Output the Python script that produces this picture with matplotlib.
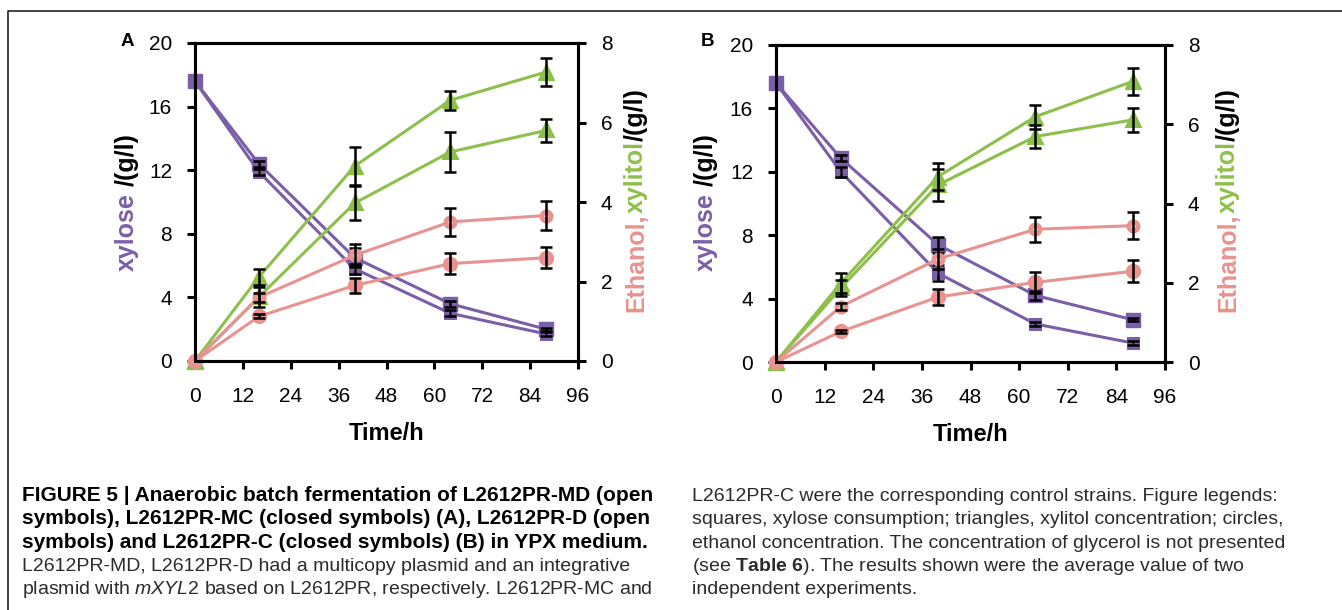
import numpy as np
import matplotlib
matplotlib.use('Agg')
import matplotlib.pyplot as plt
from matplotlib.lines import Line2D
from matplotlib.transforms import IdentityTransform

plt.rcParams['font.family'] = ['Liberation Sans', 'DejaVu Sans']
plt.rcParams['mathtext.fontset'] = 'custom'
plt.rcParams['mathtext.rm'] = 'Liberation Sans'
plt.rcParams['mathtext.it'] = 'Liberation Sans:italic'
plt.rcParams['mathtext.bf'] = 'Liberation Sans:bold'

#------------------------------------------------------------------------------
# Data
#------------------------------------------------------------------------------
time = [0, 16, 40, 64, 88]

# panel A: L2612PR-MC (closed) / L2612PR-MD (open)
xylose_A_closed = [17.6, 12.4, 6.5, 3.6, 2.0]
xylose_A_closed_err = [0, 0.2, 0.6, 0.2, 0.1]
xylose_A_open = [17.6, 11.9, 5.8, 3.0, 1.7]
xylose_A_open_err = [0, 0.2, 0.3, 0.2, 0.1]
xylitol_A_closed = [0, 2.11, 4.9, 6.56, 7.27]
xylitol_A_closed_err = [0, 0.2, 0.48, 0.24, 0.35]
xylitol_A_open = [0, 1.61, 3.97, 5.26, 5.8]
xylitol_A_open_err = [0, 0.25, 0.42, 0.5, 0.3]
ethanol_A_closed = [0, 1.12, 1.9, 2.45, 2.6]
ethanol_A_closed_err = [0, 0.05, 0.2, 0.27, 0.26]
ethanol_A_open = [0, 1.6, 2.66, 3.5, 3.66]
ethanol_A_open_err = [0, 0.12, 0.28, 0.35, 0.36]

# panel B: L2612PR-C (closed) / L2612PR-D (open)
xylose_B_closed = [17.6, 12.86, 7.4, 4.2, 2.67]
xylose_B_closed_err = [0, 0.2, 0.5, 0.3, 0.1]
xylose_B_open = [17.6, 12.0, 5.6, 2.4, 1.2]
xylose_B_open_err = [0, 0.3, 0.5, 0.15, 0.1]
xylitol_B_closed = [0, 1.99, 4.68, 6.19, 7.08]
xylitol_B_closed_err = [0, 0.25, 0.35, 0.3, 0.35]
xylitol_B_open = [0, 1.87, 4.47, 5.69, 6.11]
xylitol_B_open_err = [0, 0.2, 0.4, 0.28, 0.3]
ethanol_B_closed = [0, 0.77, 1.64, 2.01, 2.29]
ethanol_B_closed_err = [0, 0.05, 0.2, 0.26, 0.28]
ethanol_B_open = [0, 1.40, 2.60, 3.35, 3.44]
ethanol_B_open_err = [0, 0.1, 0.25, 0.32, 0.34]

x_ticks = [0, 12, 24, 36, 48, 60, 72, 84, 96]
left_ticks = [0, 4, 8, 12, 16, 20]
right_ticks = [0, 2, 4, 6, 8]

caption_left = [
    ('bold', "FIGURE 5 | Anaerobic batch fermentation of L2612PR-MD (open"),
    ('bold', "symbols), L2612PR-MC (closed symbols) (A), L2612PR-D (open"),
    ('bold', "symbols) and L2612PR-C (closed symbols) (B) in YPX medium."),
    ('normal', "L2612PR-MD, L2612PR-D had a multicopy plasmid and an integrative"),
    ('normal', r"plasmid with $\mathit{mXYL2}$ based on L2612PR, respectively. L2612PR-MC and"),
]
caption_right = [
    ('normal', "L2612PR-C were the corresponding control strains. Figure legends:"),
    ('normal', "squares, xylose consumption; triangles, xylitol concentration; circles,"),
    ('normal', "ethanol concentration. The concentration of glycerol is not presented"),
    ('normal', r"(see $\mathbf{Table\ 6}$). The results shown were the average value of two"),
    ('normal', "independent experiments."),
]

#------------------------------------------------------------------------------
# Style
#------------------------------------------------------------------------------
W, H = 1342, 610
purple = '#7b5ea8'
green = '#8dc04a'
pink = '#e8938f'

fig = plt.figure(figsize=(W / 100, H / 100), dpi=100)


def series(ax, y, err, color, marker, is_open):
    if is_open:
        ms, mfc, mew = {'s': 6.0, '^': 7.5, 'o': 6.5}[marker], 'white', 3.6
    else:
        ms, mfc, mew = {'s': 9.5, '^': 11.0, 'o': 10.0}[marker], color, 1.0
    ax.plot(time, y, color=color, lw=2.2, marker=marker, ms=ms, mfc=mfc,
            mec=color, mew=mew, clip_on=False, zorder=2)
    ax.errorbar(time[1:], y[1:], yerr=err[1:], fmt='none', ecolor='black',
                elinewidth=1.8, capsize=4, capthick=1.8, zorder=3, clip_on=False)


def panel(rect, letter, xyl, eth, xlt):
    ax = fig.add_axes(rect)
    ax2 = ax.twinx()
    for y, err, op in xyl:
        series(ax, y, err, purple, 's', op)
    for y, err, op in xlt:
        series(ax2, y, err, green, '^', op)
    for y, err, op in eth:
        series(ax2, y, err, pink, 'o', op)

    ax.set_xlim(0, 96)
    ax.set_ylim(0, 20)
    ax2.set_ylim(0, 8)
    ax.set_xticks(x_ticks)
    ax.set_yticks(left_ticks)
    ax2.set_yticks(right_ticks)
    for a in (ax, ax2):
        for s in a.spines.values():
            s.set_linewidth(2.2)
        a.tick_params(width=2.2, length=5.5, labelsize=15, direction='out')
    ax.tick_params(axis='x', pad=13)
    ax.tick_params(axis='y', pad=11)
    ax2.tick_params(axis='y', pad=11)
    ax.set_xlabel('Time/h', fontsize=17, fontweight='bold', labelpad=12)

    x0 = rect[0] * W
    fig.text((x0 - 68) / W, 1 - 41 / H, letter, fontsize=13.5,
             fontweight='bold', ha='center', va='center')
    return ax, ax2


def vlabel(x, yc, parts, size=18, gap=0):
    # rotated label made of differently coloured pieces, stacked upward
    r = fig.canvas.get_renderer()
    texts = []
    for s, c in parts:
        t = fig.text(0, 0, s, rotation=90, rotation_mode='anchor', ha='left',
                     va='center', fontsize=size, fontweight='bold', color=c,
                     transform=IdentityTransform())
        texts.append(t)
    hs = [t.get_window_extent(r).height for t in texts]
    total = sum(hs) + gap * (len(parts) - 1)
    y = (H - yc) - total / 2
    for t, h in zip(texts, hs):
        t.set_position((x, y))
        y += h + gap


axA, axA2 = panel([195 / W, 1 - 361 / H, 383 / W, 318 / H], 'A',
                  [(xylose_A_closed, xylose_A_closed_err, False),
                   (xylose_A_open, xylose_A_open_err, True)],
                  [(ethanol_A_closed, ethanol_A_closed_err, False),
                   (ethanol_A_open, ethanol_A_open_err, True)],
                  [(xylitol_A_closed, xylitol_A_closed_err, False),
                   (xylitol_A_open, xylitol_A_open_err, True)])
axB, axB2 = panel([776 / W, 1 - 362 / H, 389 / W, 317 / H], 'B',
                  [(xylose_B_closed, xylose_B_closed_err, False),
                   (xylose_B_open, xylose_B_open_err, True)],
                  [(ethanol_B_closed, ethanol_B_closed_err, False),
                   (ethanol_B_open, ethanol_B_open_err, True)],
                  [(xylitol_B_closed, xylitol_B_closed_err, False),
                   (xylitol_B_open, xylitol_B_open_err, True)])

for xl, xr in ((127, 636), (706, 1228)):
    vlabel(xl, 202, [('xylose', purple), ('/(g/l)', 'black')], gap=7)
    vlabel(xr, 200, [('Ethanol,', pink), ('xylitol', green), ('/(g/l)', 'black')])

# frame lines of the journal figure box
fig.add_artist(Line2D([8 / W, 8 / W, 1], [0, 1 - 11 / H, 1 - 11 / H],
                      transform=fig.transFigure, color='#222222', lw=1.2))

# caption
for x0, lines in ((22, caption_left), (692, caption_right)):
    for i, (weight, s) in enumerate(lines):
        y = 501 + 23.3 * i
        if weight == 'bold':
            fig.text(x0 / W, 1 - y / H, s, fontsize=15, fontweight='bold',
                     va='baseline', color='black')
        else:
            fig.text(x0 / W, 1 - y / H, s, fontsize=14, va='baseline',
                     color='#2b2b2b')

fig.savefig('out.png', dpi=100)
